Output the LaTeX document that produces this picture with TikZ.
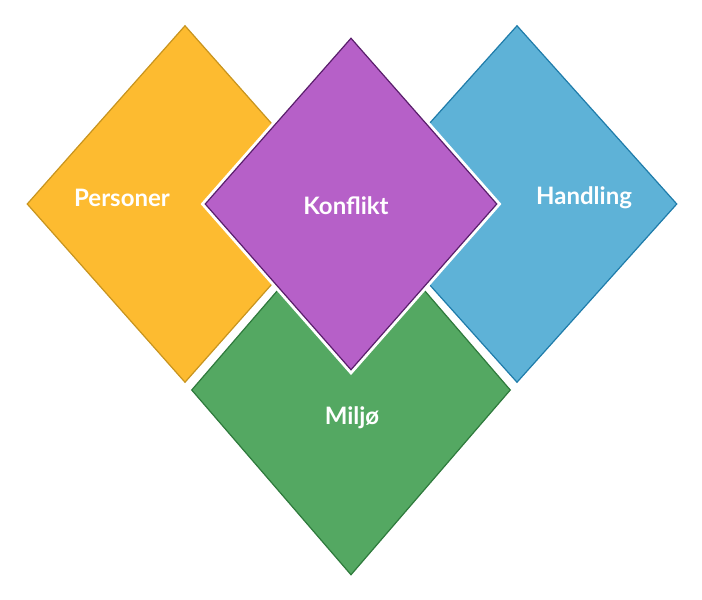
\documentclass[tikz,border=0pt]{standalone}
\usepackage{fontspec}
\setmainfont{Lato}
\usetikzlibrary{shapes.geometric}
\definecolor{pers}{HTML}{FDBB30}
\definecolor{persline}{HTML}{C8941E}
\definecolor{hand}{HTML}{5EB2D7}
\definecolor{handline}{HTML}{1F7CAA}
\definecolor{milj}{HTML}{54A862}
\definecolor{miljline}{HTML}{2E7A3C}
\definecolor{konf}{HTML}{B660C8}
\definecolor{konfline}{HTML}{5A1E6C}
\tikzset{
  piece/.style={diamond, inner sep=0pt, text=white, font=\bfseries\fontsize{24}{28}\selectfont,
    line width=1.2pt, preaction={draw=white, line width=7pt}},
}
\begin{document}
\begin{tikzpicture}[x=1pt, y=-1pt]
        \useasboundingbox (0,0) rectangle (702,600);
        
        \node[piece, fill=pers, draw=persline, minimum width=316pt, minimum height=357pt] (personer) at (185,204) {};
        \node[piece, fill=hand, draw=handline, minimum width=320pt, minimum height=357pt] (handling) at (517,204) {};
        \node[piece, fill=milj, draw=miljline, minimum width=319pt, minimum height=370pt] (miljo) at (351,390) {};
        \node[piece, fill=konf, draw=konfline, minimum width=292pt, minimum height=332pt] (konflikt) at (351,204) {};
        
        \node[text=white, font=\bfseries\fontsize{24}{28}\selectfont] (tpers) at (122,198) {Personer};
        \node[text=white, font=\bfseries\fontsize{24}{28}\selectfont] (thand) at (584,198) {Handling};
        \node[text=white, font=\bfseries\fontsize{24}{28}\selectfont] (tkonf) at (346,206) {Konflikt};
        \node[text=white, font=\bfseries\fontsize{24}{28}\selectfont] (tmilj) at (352,418) {Miljø};
\end{tikzpicture}
\end{document}
